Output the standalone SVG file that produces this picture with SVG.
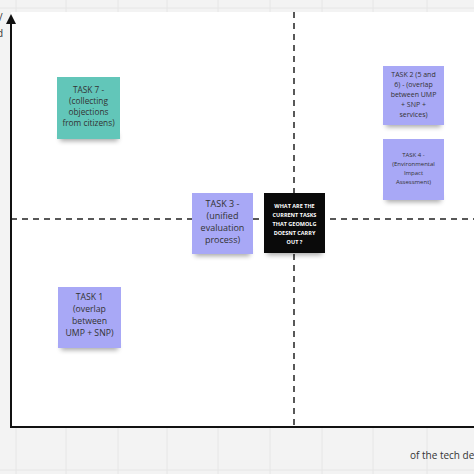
<svg xmlns="http://www.w3.org/2000/svg" width="474" height="474" viewBox="0 0 474 474">
<style>
.grid{stroke:#e6e6e6;stroke-width:1}
.axis{stroke:#111;stroke-width:2;fill:none}
.dash{stroke:#222;stroke-width:1.5;stroke-dasharray:6 5;fill:none}
.t{font-family:"Open Sans","Noto Sans",sans-serif;fill:#333;text-anchor:middle}
.w{font-family:"Open Sans","Noto Sans",sans-serif;fill:#fff;text-anchor:middle;font-weight:bold}
.purple{fill:#a8a8f6}
.teal{fill:#62c6b9}
.lbl{font-family:"Open Sans","Noto Sans",sans-serif;fill:#333;font-size:10px}
</style>
<defs>
<filter id="sh" x="-30%" y="-100%" width="160%" height="300%"><feGaussianBlur stdDeviation="2.5"/></filter>
<marker id="arr" viewBox="0 0 10 10" refX="8" refY="5" markerWidth="5" markerHeight="5" orient="auto"><path d="M0,0 L10,5 L0,10 z" fill="#111"/></marker>
</defs>
<rect width="474" height="474" fill="#f3f3f3"/>
<g id="grid">
<line class="grid" x1="0" y1="8" x2="474" y2="8"/>
<line class="grid" x1="16" y1="0" x2="16" y2="474"/>
<line class="grid" x1="66" y1="0" x2="66" y2="474"/>
<line class="grid" x1="118" y1="0" x2="118" y2="474"/>
<line class="grid" x1="167" y1="0" x2="167" y2="474"/>
<line class="grid" x1="218" y1="0" x2="218" y2="474"/>
<line class="grid" x1="270" y1="0" x2="270" y2="474"/>
<line class="grid" x1="322" y1="0" x2="322" y2="474"/>
<line class="grid" x1="373" y1="0" x2="373" y2="474"/>
<line class="grid" x1="427" y1="0" x2="427" y2="474"/>
<line class="grid" x1="0" y1="470" x2="474" y2="470"/>
</g>
<rect x="11" y="12" width="463" height="415" fill="#fff"/>
<text class="lbl" x="-6" y="21">y/</text>
<text class="lbl" x="-3" y="37">d</text>
<text class="lbl" x="410" y="459">of the tech de</text>
<g id="connectors">
<line class="dash" x1="294" y1="12" x2="294" y2="427"/>
<line class="dash" x1="11" y1="219" x2="474" y2="219"/>
<line class="axis" x1="11" y1="427" x2="11" y2="16" marker-end="url(#arr)"/>
<line class="axis" x1="10" y1="427" x2="474" y2="427"/>
</g>
<g id="task7">
<rect x="60" y="134" width="58" height="7" fill="#000" opacity="0.35" filter="url(#sh)"/>
<rect class="teal" x="57" y="77" width="63" height="62"/>
<text class="t" font-size="8.3" x="88.5" y="93">TASK 7 -</text>
<text class="t" font-size="8.3" x="88.5" y="104">(collecting</text>
<text class="t" font-size="8.3" x="88.5" y="115">objections</text>
<text class="t" font-size="8.3" x="88.5" y="126">from citizens)</text>
</g>
<g id="task2">
<rect x="386" y="120" width="55" height="7" fill="#000" opacity="0.35" filter="url(#sh)"/>
<rect class="purple" x="383" y="66" width="61" height="59"/>
<text class="t" font-size="7" x="413.5" y="77">TASK 2 (5 and</text>
<text class="t" font-size="7" x="413.5" y="87">6) - (overlap</text>
<text class="t" font-size="7" x="413.5" y="97">between UMP</text>
<text class="t" font-size="7" x="413.5" y="107">+ SNP +</text>
<text class="t" font-size="7" x="413.5" y="117">services)</text>
</g>
<g id="task4">
<rect x="386" y="195" width="55" height="7" fill="#000" opacity="0.35" filter="url(#sh)"/>
<rect class="purple" x="383" y="139" width="61" height="61"/>
<text class="t" font-size="6" x="413.5" y="157">TASK 4 -</text>
<text class="t" font-size="6" x="413.5" y="166">(Environmental</text>
<text class="t" font-size="6" x="413.5" y="175">Impact</text>
<text class="t" font-size="6" x="413.5" y="184">Assessment)</text>
</g>
<g id="task3">
<rect x="195" y="249" width="55" height="7" fill="#000" opacity="0.35" filter="url(#sh)"/>
<rect class="purple" x="192" y="193" width="61" height="61"/>
<text class="t" font-size="9" x="222.5" y="207">TASK 3 -</text>
<text class="t" font-size="9" x="222.5" y="219">(unified</text>
<text class="t" font-size="9" x="222.5" y="231">evaluation</text>
<text class="t" font-size="9" x="222.5" y="243">process)</text>
</g>
<g id="question">
<rect x="267" y="248" width="55" height="7" fill="#000" opacity="0.35" filter="url(#sh)"/>
<rect x="264" y="193" width="61" height="60" fill="#0a0a0a"/>
<text class="w" font-size="5.5" x="294.5" y="208">WHAT ARE THE</text>
<text class="w" font-size="5.5" x="294.5" y="217">CURRENT TASKS</text>
<text class="w" font-size="5.5" x="294.5" y="226">THAT GEOMOLG</text>
<text class="w" font-size="5.5" x="294.5" y="235">DOESNT CARRY</text>
<text class="w" font-size="5.5" x="294.5" y="244">OUT ?</text>
</g>
<g id="task1">
<rect x="61" y="343" width="57" height="7" fill="#000" opacity="0.35" filter="url(#sh)"/>
<rect class="purple" x="58" y="287" width="63" height="61"/>
<text class="t" font-size="8.7" x="89.5" y="300">TASK 1</text>
<text class="t" font-size="8.7" x="89.5" y="312">(overlap</text>
<text class="t" font-size="8.7" x="89.5" y="324">between</text>
<text class="t" font-size="8.7" x="89.5" y="336">UMP + SNP)</text>
</g>
</svg>
